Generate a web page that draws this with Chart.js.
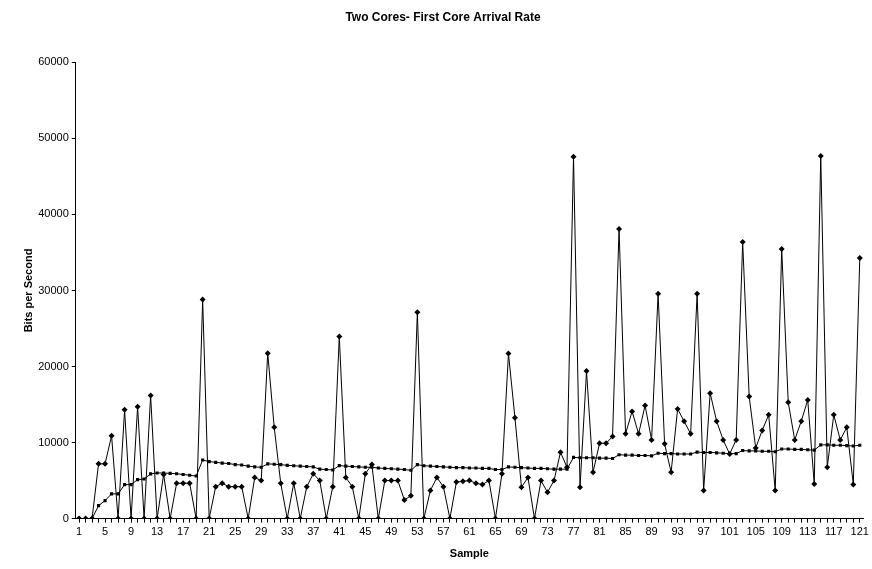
<!DOCTYPE html>
<html>
<head>
<meta charset="utf-8">
<script src="https://cdn.jsdelivr.net/npm/chart.js@4/dist/chart.umd.min.js"></script>
<style>
  html, body { margin: 0; padding: 0; background: #fff; }
  #wrap { width: 872px; height: 569px; }
</style>
</head>
<body>
<div id="wrap"><canvas id="arrivalChart" width="872" height="569"></canvas></div>
<script>
// sample numbers 1..121
const samples = [];
for (let i = 1; i <= 121; i++) samples.push(String(i));

// instantaneous arrival rate (diamonds)
const arrivalRate = [
	0, 0, 0, 7200, 7200, 10900, 0, 14300, 0, 14700,
	0, 16200, 0, 5800, 0, 4650, 4650, 4650, 0, 28800,
	0, 4200, 4650, 4200, 4200, 4200, 0, 5400, 5000, 21750,
	12000, 4650, 0, 4650, 0, 4200, 5900, 5000, 0, 4200,
	23950, 5400, 4200, 0, 5900, 7100, 0, 5000, 5000, 5000,
	2450, 3000, 27150, 0, 3700, 5400, 4200, 0, 4800, 4900,
	5000, 4650, 4470, 5000, 0, 5900, 21700, 13250, 4130, 5400,
	0, 5000, 3460, 5000, 8730, 6750, 47600, 4130, 19400, 6100,
	9900, 9900, 10800, 38100, 11150, 14100, 11150, 14870, 10350, 29570,
	9830, 6100, 14430, 12800, 11150, 29570, 3700, 16500, 12800, 10350,
	8500, 10350, 36370, 16050, 9300, 11600, 13650, 3700, 35450, 15300,
	10350, 12800, 15600, 4560, 47700, 6750, 13650, 10350, 12000, 4500,
	34260
];

// smoothed rate (squares)
const smoothedRate = [
	0, 0, 0, 1700, 2370, 3250, 3250, 4470, 4470, 5130,
	5200, 5880, 6000, 6000, 5950, 5900, 5800, 5700, 5600, 7700,
	7500, 7400, 7300, 7250, 7100, 7050, 6900, 6800, 6750, 7200,
	7150, 7100, 7000, 6950, 6900, 6850, 6800, 6500, 6450, 6400,
	6970, 6900, 6850, 6800, 6750, 6750, 6650, 6600, 6550, 6500,
	6450, 6350, 7100, 6950, 6900, 6850, 6800, 6750, 6700, 6700,
	6650, 6650, 6600, 6600, 6450, 6450, 6800, 6750, 6700, 6650,
	6600, 6600, 6550, 6500, 6500, 6500, 8050, 8000, 8000, 8000,
	7950, 7950, 7900, 8400, 8350, 8350, 8300, 8300, 8250, 8600,
	8550, 8550, 8500, 8500, 8500, 8750, 8700, 8700, 8650, 8600,
	8550, 8550, 8950, 8900, 8900, 8850, 8850, 8800, 9150, 9150,
	9100, 9100, 9050, 9000, 9700, 9700, 9650, 9650, 9600, 9550,
	9650
];

const yTicks = [0, 10000, 20000, 30000, 40000, 50000, 60000];

const fontFamily = '"Liberation Sans", Arial, sans-serif';

new Chart(document.getElementById('arrivalChart').getContext('2d'), {
	type: 'line',
	data: {
		labels: samples,
		datasets: [{
			label: 'Arrival Rate',
			data: arrivalRate,
			borderColor: '#000',
			backgroundColor: '#000',
			borderWidth: 1,
			pointStyle: 'rectRot',
			pointRadius: 3,
			pointBorderWidth: 0,
			tension: 0
		}, {
			label: 'Average',
			data: smoothedRate,
			borderColor: '#000',
			backgroundColor: '#000',
			borderWidth: 1,
			pointStyle: 'rect',
			pointRadius: 2.2,
			pointBorderWidth: 0,
			tension: 0
		}]
	},
	options: {
		responsive: false,
		animation: false,
		layout: {
			padding: { top: 4, right: 8, bottom: 8, left: 22 }
		},
		plugins: {
			legend: { display: false },
			tooltip: { enabled: false },
			title: {
				display: true,
				text: 'Two Cores- First Core Arrival Rate',
				color: '#000',
				font: { family: fontFamily, size: 12, weight: 'bold' },
				padding: { top: 6, bottom: 38 }
			}
		},
		scales: {
			x: {
				type: 'category',
				offset: true,
				border: { display: true, color: '#000', width: 1 },
				grid: {
					drawOnChartArea: false,
					drawTicks: true,
					tickLength: 4,
					color: '#000'
				},
				ticks: {
					autoSkip: false,
					maxRotation: 0,
					minRotation: 0,
					color: '#000',
					padding: 3,
					font: { family: fontFamily, size: 11 },
					callback: function(value, index) {
						return index % 4 === 0 ? this.getLabelForValue(value) : '';
					}
				},
				title: {
					display: true,
					text: 'Sample',
					color: '#000',
					font: { family: fontFamily, size: 11, weight: 'bold' },
					padding: { top: 6, bottom: 0 }
				}
			},
			y: {
				min: 0,
				max: 60000,
				border: { display: true, color: '#000', width: 1 },
				grid: {
					drawOnChartArea: false,
					drawTicks: true,
					tickLength: 4,
					color: '#000'
				},
				afterBuildTicks: function(axis) {
					axis.ticks = yTicks.map(v => ({ value: v }));
				},
				ticks: {
					color: '#000',
					padding: 3,
					font: { family: fontFamily, size: 11 },
					callback: function(value) {
						return String(value);
					}
				},
				title: {
					display: true,
					text: 'Bits per Second',
					color: '#000',
					font: { family: fontFamily, size: 11, weight: 'bold' },
					padding: { top: 0, bottom: 0 }
				}
			}
		}
	}
});
</script>
</body>
</html>
